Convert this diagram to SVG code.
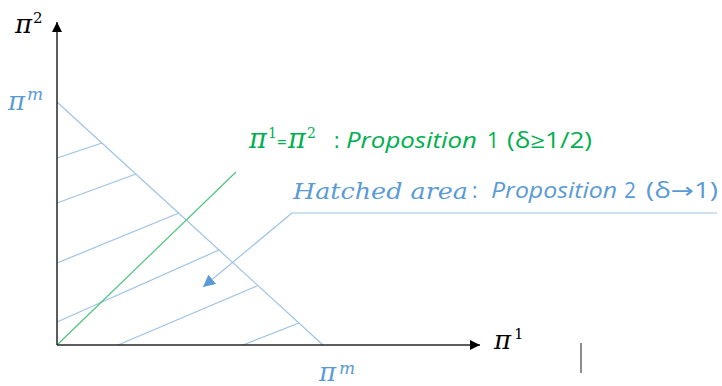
<svg xmlns="http://www.w3.org/2000/svg" width="722" height="386" viewBox="0 0 722 386">
<defs>
<style>
.axis{stroke:#262626;stroke-width:1.5;fill:none}
.hatch{stroke:#9DC3E6;stroke-width:1.2;fill:none}
.green{stroke:#4CC47A;stroke-width:1.2;fill:none}
.ptr{stroke:#9DC3E6;stroke-width:1.2;fill:none}
.m{font-family:"DejaVu Serif","Liberation Serif",serif;font-style:italic}
.sup{font-family:"DejaVu Serif","Liberation Serif",serif}
.s{font-family:"Open Sans","Liberation Sans",sans-serif}
.i{font-style:italic}
.blk{fill:#000}
.gt{fill:#00B050}
.bt{fill:#5B9BD5}
</style>
<marker id="ah" viewBox="0 0 10 10" refX="10" refY="5" markerWidth="10" markerHeight="10" markerUnits="userSpaceOnUse" orient="auto">
<path d="M0,0 L10,5 L0,10 z" fill="#000"/>
</marker>
<marker id="ab" viewBox="0 0 10 10" refX="10" refY="5" markerWidth="12" markerHeight="12" markerUnits="userSpaceOnUse" orient="auto">
<path d="M0,0 L10,5 L0,10 z" fill="#5B9BD5"/>
</marker>
</defs>
<rect width="722" height="386" fill="#fff"/>
<g id="hatching">
<line class="hatch" x1="57" y1="102" x2="323" y2="345"/>
<line class="hatch" x1="57" y1="158" x2="102" y2="143"/>
<line class="hatch" x1="57" y1="203" x2="136" y2="174"/>
<line class="hatch" x1="57" y1="263" x2="179" y2="213"/>
<line class="hatch" x1="57" y1="322" x2="219" y2="250"/>
<line class="hatch" x1="118" y1="345" x2="257" y2="286"/>
<line class="hatch" x1="243" y1="345" x2="299" y2="323"/>
<line class="green" x1="57" y1="345" x2="236" y2="172"/>
</g>
<g id="connectors">
<line class="axis" x1="57" y1="345" x2="57" y2="22" marker-end="url(#ah)"/>
<line class="axis" x1="57" y1="345" x2="480" y2="345" marker-end="url(#ah)"/>
<line class="ptr" x1="717" y1="213" x2="292" y2="213"/>
<line class="ptr" x1="292" y1="213" x2="203" y2="287" stroke="#5B9BD5" marker-end="url(#ab)"/>
<line x1="581" y1="343" x2="581" y2="373" stroke="#404040" stroke-width="1.2"/>
</g>
<g id="label-pi2">
<text class="m blk" x="15" y="33" font-size="26">π</text>
<text class="sup blk" x="33" y="23" font-size="15">2</text>
</g>
<g id="label-pim-y">
<text class="m bt" x="8" y="110" font-size="26">π</text>
<text class="m bt" x="27" y="100" font-size="17">m</text>
</g>
<g id="label-pim-x">
<text class="m bt" x="319" y="381" font-size="26">π</text>
<text class="m bt" x="339" y="374" font-size="17">m</text>
</g>
<g id="label-pi1">
<text class="m blk" x="494" y="349" font-size="26">π</text>
<text class="sup blk" x="514" y="339" font-size="15">1</text>
</g>
<g id="label-prop1">
<text class="m gt" x="249" y="148" font-size="27">π</text>
<text class="sup gt" x="268" y="138" font-size="14">1</text>
<text class="s gt" x="277" y="148" font-size="17">=</text>
<text class="m gt" x="288" y="148" font-size="27">π</text>
<text class="sup gt" x="307" y="138" font-size="14">2</text>
<text class="s gt" x="334" y="148" font-size="21">:</text>
<text class="s i gt" x="346" y="148" font-size="21" textLength="131" lengthAdjust="spacingAndGlyphs">Proposition</text>
<text class="s gt" x="487" y="148" font-size="21">1</text>
<text class="s gt" x="507" y="148" font-size="21" textLength="85" lengthAdjust="spacingAndGlyphs">(δ≥1/2)</text>
</g>
<g id="label-prop2">
<text class="m bt" x="293" y="199" font-size="23" textLength="175" lengthAdjust="spacingAndGlyphs">Hatched area</text>
<text class="s bt" x="472" y="198" font-size="21">:</text>
<text class="s i bt" x="491" y="198" font-size="21" textLength="126" lengthAdjust="spacingAndGlyphs">Proposition</text>
<text class="s bt" x="624" y="198" font-size="21">2</text>
<text class="s bt" x="646" y="198" font-size="21" textLength="72" lengthAdjust="spacingAndGlyphs">(δ<tspan font-family="DejaVu Sans, sans-serif" font-size="21">→</tspan>1)</text>
</g>
</svg>
